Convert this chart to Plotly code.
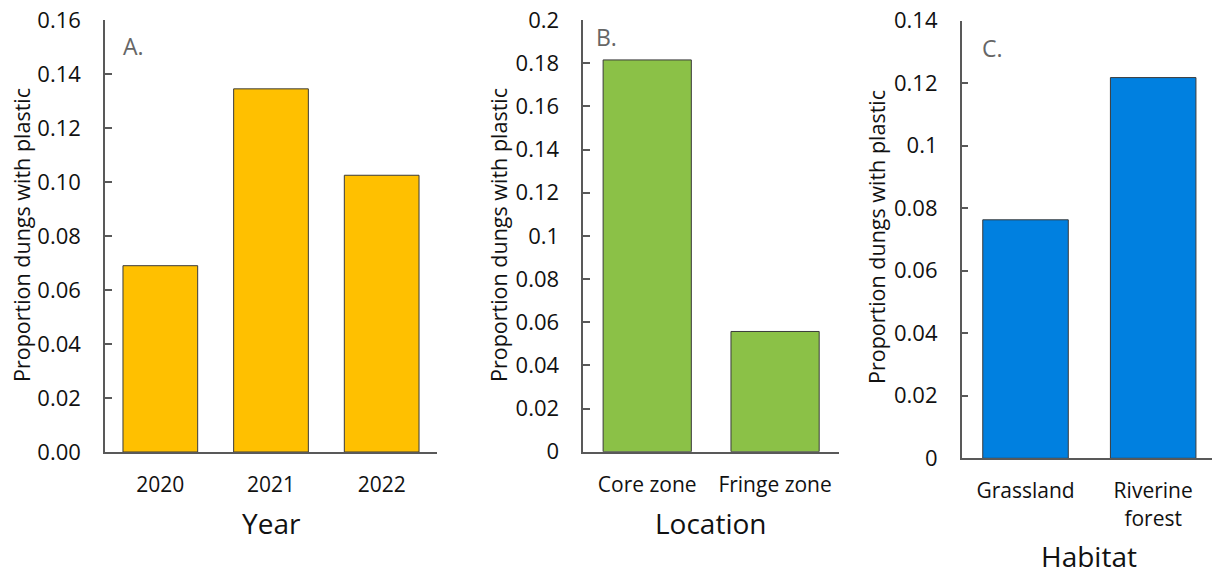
import plotly.graph_objects as go

W, H = 1220, 573
OFF = 8  # page body margin offset

# ---- data ----
years = ["2020", "2021", "2022"]
prop_year = [0.069, 0.1345, 0.1025]

locations = ["Core zone", "Fringe zone"]
prop_loc = [0.1815, 0.0557]

habitats = ["Grassland", "Riverine<br>forest"]
prop_hab = [0.0763, 0.1218]

ytick_a = [0, 0.02, 0.04, 0.06, 0.08, 0.10, 0.12, 0.14, 0.16]
ytext_a = ["0.00", "0.02", "0.04", "0.06", "0.08", "0.10", "0.12", "0.14", "0.16"]
ytick_b = [0, 0.02, 0.04, 0.06, 0.08, 0.1, 0.12, 0.14, 0.16, 0.18, 0.2]
ytext_b = ["0", "0.02", "0.04", "0.06", "0.08", "0.1", "0.12", "0.14", "0.16", "0.18", "0.2"]
ytick_c = [0, 0.02, 0.04, 0.06, 0.08, 0.1, 0.12, 0.14]
ytext_c = ["0", "0.02", "0.04", "0.06", "0.08", "0.1", "0.12", "0.14"]

FONT = "Open Sans"
AXC = "#595959"


def fx(px):
    return (px - OFF) / W


def fy(py):
    return 1 - (py - OFF) / H


fig = go.Figure()
fig.add_bar(x=years, y=prop_year, xaxis="x", yaxis="y", width=0.675,
            marker=dict(color="#FFC000", line=dict(color="#3a3a3a", width=1)))
fig.add_bar(x=locations, y=prop_loc, xaxis="x2", yaxis="y2", width=0.69,
            marker=dict(color="#8BC147", line=dict(color="#3a3a3a", width=1)))
fig.add_bar(x=habitats, y=prop_hab, xaxis="x3", yaxis="y3", width=0.67,
            marker=dict(color="#0080E0", line=dict(color="#3a3a3a", width=1)))


def xax(dom, n, anchor):
    return dict(domain=dom, type="category", range=[-0.5, n - 0.5], anchor=anchor,
                showline=True, linecolor=AXC, linewidth=1.5, ticks="", showgrid=False,
                zeroline=False, automargin=False, ticklabeloverflow="allow",
                tickfont=dict(family=FONT, size=21, color="#111"), ticklabelstandoff=13,
                fixedrange=True)


def yax(dom, rng, tv, tt, anchor):
    return dict(domain=dom, range=rng, anchor=anchor, showline=True, linecolor=AXC,
                linewidth=1.5, ticks="inside", ticklen=7, tickwidth=1.5, tickcolor=AXC,
                tickvals=tv, ticktext=tt, showgrid=False, zeroline=False,
                automargin=False, ticklabeloverflow="allow",
                tickfont=dict(family=FONT, size=22, color="#111"), ticklabelstandoff=18,
                fixedrange=True)


fig.update_layout(
    template="none",
    width=W, height=H, autosize=False, showlegend=False,
    margin=dict(l=0, r=0, t=0, b=0, pad=0),
    paper_bgcolor="white", plot_bgcolor="white",
    xaxis=xax([fx(105), fx(437)], 3, "y"),
    yaxis=yax([fy(452), fy(20)], [0, 0.16], ytick_a, ytext_a, "x"),
    xaxis2=xax([fx(583.3), fx(839)], 2, "y2"),
    yaxis2=yax([fy(451.7), fy(20)], [0, 0.2], ytick_b, ytext_b, "x2"),
    xaxis3=xax([fx(961.7), fx(1217)], 2, "y3"),
    yaxis3=yax([fy(458.3), fy(20.7)], [0, 0.14], ytick_c, ytext_c, "x3"),
)

ann = []
# panel letters
for t, x, y in [("A.", 133, 46), ("B.", 606, 37), ("C.", 993, 48)]:
    ann.append(dict(text=t, x=fx(x), y=fy(y), xref="paper", yref="paper", showarrow=False,
                    xanchor="center", yanchor="middle",
                    font=dict(family=FONT, size=23, color="#666666")))
# x titles
for t, x, y in [("Year", 271, 523), ("Location", 711, 523), ("Habitat", 1089, 556)]:
    ann.append(dict(text=t, x=fx(x), y=fy(y), xref="paper", yref="paper", showarrow=False,
                    xanchor="center", yanchor="middle",
                    font=dict(family=FONT, size=28, color="#111")))
# y titles
for x, y in [(21, 235), (498, 235), (877, 237)]:
    ann.append(dict(text="Proportion dungs with plastic", x=fx(x), y=fy(y), xref="paper",
                    yref="paper", showarrow=False, textangle=-90,
                    xanchor="center", yanchor="middle",
                    font=dict(family=FONT, size=21.5, color="#111")))
fig.update_layout(annotations=ann)

fig.write_html("out.html", config={"displayModeBar": False})
